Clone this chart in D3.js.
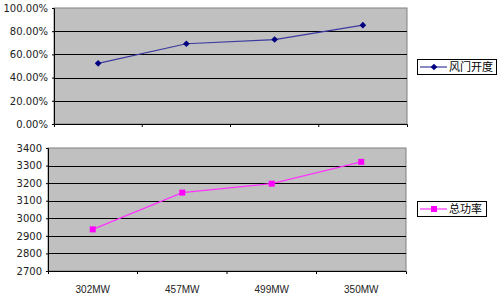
<!DOCTYPE html>
<html><head><meta charset="utf-8">
<script src="https://cdn.jsdelivr.net/npm/d3@7"></script>
<style>body{margin:0;background:#fff}svg{display:block}</style>
</head><body><svg width="500" height="296"></svg>
<script>
const categories = ["302MW", "457MW", "499MW", "350MW"];
const fanOpening = [0.523, 0.692, 0.728, 0.852];
const totalPower = [2937, 3146, 3197, 3321];
const pctTicks = [0, 0.2, 0.4, 0.6, 0.8, 1.0];
const powerTicks = [2700, 2800, 2900, 3000, 3100, 3200, 3300, 3400];
const seriesNames = ["风门开度", "总功率"];

const svg = d3.select("svg");
const font = "'DejaVu Sans', sans-serif";

function panel(opts) {
  const {left, right, top, bottom, yDomain, ticks, fmt, values, color, lineColor, rot, name, legend, showX} = opts;
  const x = d3.scaleBand().domain(categories).range([left, right]);
  const y = d3.scaleLinear().domain(yDomain).range([bottom, top]);
  const g = svg.append("g");
  g.append("rect").attr("x", left).attr("y", top).attr("width", right - left).attr("height", bottom - top)
    .attr("fill", "#c0c0c0").attr("stroke", "#808080").attr("stroke-width", 1);
  g.selectAll(".grid").data(ticks.slice(1, -1)).enter().append("line")
    .attr("x1", left).attr("x2", right)
    .attr("y1", d => Math.round(y(d)) + 0.5).attr("y2", d => Math.round(y(d)) + 0.5)
    .attr("stroke", "#000").attr("stroke-width", 1);
  const ya = d3.axisLeft(y).tickValues(ticks).tickFormat(fmt).tickSize(2).tickPadding(4);
  const yg = g.append("g").attr("transform", `translate(${left},0)`).call(ya);
  yg.select(".domain").attr("stroke", "#000");
  yg.selectAll("text").attr("font-family", font).attr("font-size", 10).attr("fill", "#222");
  const xa = d3.axisBottom(x).tickSize(3).tickFormat(showX ? d => d : () => "");
  const xg = g.append("g").attr("transform", `translate(0,${bottom})`).call(xa);
  xg.select(".domain").attr("stroke", "#000");
  xg.selectAll(".tick line").attr("transform", () => `translate(${x.bandwidth() / 2},0)`)
    .filter((d, i) => i === categories.length - 1).remove();
  xg.selectAll("text").attr("font-family", "'Liberation Sans Narrow', 'Liberation Sans', sans-serif")
    .attr("font-size", 10).attr("fill", "#222").attr("dy", "1.6em");
  const cx = d => x(d) + x.bandwidth() / 2;
  const line = d3.line().x((d, i) => cx(categories[i])).y(d => y(d));
  g.append("path").datum(values).attr("d", line).attr("fill", "none").attr("stroke", lineColor).attr("stroke-width", 1.2);
  const sym = d3.symbol().type(d3.symbolSquare).size(rot ? 22 : 36);
  g.selectAll(".pt").data(values).enter().append("path")
    .attr("transform", (d, i) => `translate(${cx(categories[i])},${y(d)}) rotate(${rot ? 45 : 0})`)
    .attr("d", sym).attr("fill", color);
  const lg = svg.append("g");
  lg.append("rect").attr("x", legend.x + 0.5).attr("y", legend.y + 0.5).attr("width", legend.w).attr("height", legend.h)
    .attr("fill", "#fff").attr("stroke", "#000");
  const my = legend.y + legend.h / 2 + 0.5;
  lg.append("line").attr("x1", legend.x + 3).attr("x2", legend.x + 30).attr("y1", my).attr("y2", my)
    .attr("stroke", lineColor).attr("stroke-width", 1.2);
  lg.append("path").attr("transform", `translate(${legend.x + 17},${my}) rotate(${rot ? 45 : 0})`).attr("d", sym).attr("fill", color);
  lg.append("text").attr("x", legend.x + 32).attr("y", my + 4).text(name)
    .attr("font-family", "'Noto Sans CJK SC', sans-serif").attr("font-size", 11).attr("fill", "#000");
}

panel({left: 54, right: 407, top: 8, bottom: 124, yDomain: [0, 1], ticks: pctTicks,
  fmt: d => d3.format(".2f")(d * 100) + "%", values: fanOpening, color: "#000080", lineColor: "#3a3aa0",
  rot: true, name: seriesNames[0], legend: {x: 417, y: 59, w: 79, h: 15}, showX: false});
panel({left: 48, right: 406, top: 148, bottom: 271, yDomain: [2700, 3400], ticks: powerTicks,
  fmt: d3.format("d"), values: totalPower, color: "#ff00ff", lineColor: "#ff33ff",
  rot: false, name: seriesNames[1], legend: {x: 417, y: 201, w: 69, h: 15}, showX: true});
</script></body></html>
